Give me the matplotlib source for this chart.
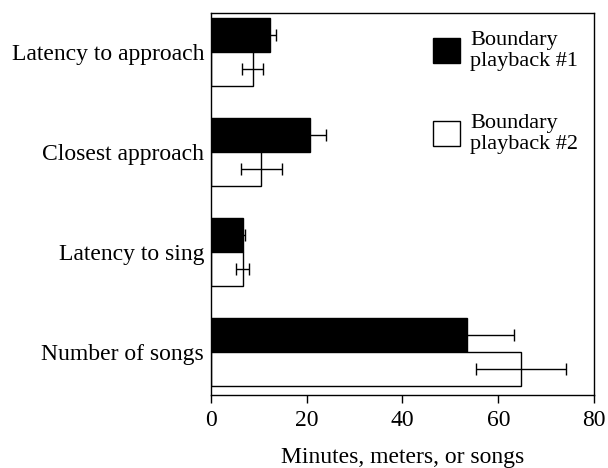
import numpy as np
import matplotlib.pyplot as plt
from matplotlib.patches import Patch

plt.rcParams['font.family'] = ['Liberation Serif', 'DejaVu Serif']

categories = ['Latency to approach', 'Closest approach', 'Latency to sing', 'Number of songs']
playback1 = [12.4, 20.7, 6.6, 53.5]
playback1_err = [1.2, 3.4, 0.5, 9.8]
playback2 = [8.7, 10.5, 6.6, 64.7]
playback2_err = [2.2, 4.3, 1.3, 9.4]
series_labels = ['Boundary\nplayback #1', 'Boundary\nplayback #2']

fig = plt.figure(figsize=(6.08, 4.68), dpi=100)
ax = fig.add_axes([0.347, 0.156, 0.630, 0.816])

y = np.arange(len(categories))
h = 0.34
ax.barh(y - h / 2, playback1, height=h, color='black', edgecolor='black', linewidth=1)
ax.barh(y + h / 2, playback2, height=h, color='white', edgecolor='black', linewidth=1)
ax.errorbar(playback1, y - h / 2, xerr=playback1_err, fmt='none', ecolor='black',
            elinewidth=1, capsize=4.5, capthick=1)
ax.errorbar(playback2, y + h / 2, xerr=playback2_err, fmt='none', ecolor='black',
            elinewidth=1, capsize=4.5, capthick=1)

ax.set_ylim(3.43, -0.39)
ax.set_xlim(0, 80)
ax.set_yticks(y)
ax.set_yticklabels(categories, fontsize=17)
ax.tick_params(axis='y', length=0, pad=5)
ax.set_xticks([0, 20, 40, 60, 80])
ax.tick_params(axis='x', direction='out', length=6, width=1, labelsize=17, pad=5)
ax.set_xlabel('Minutes, meters, or songs', fontsize=17, labelpad=11)
for s in ax.spines.values():
    s.set_linewidth(1)

handles = [Patch(facecolor='black', edgecolor='black'),
           Patch(facecolor='white', edgecolor='black')]
ax.legend(handles, series_labels, loc='upper right', frameon=False, fontsize=16,
          handlelength=1.25, handleheight=1.35, handletextpad=0.45,
          labelspacing=1.9, borderaxespad=0.3, bbox_to_anchor=(1.0, 0.995))

fig.savefig('out.png', dpi=100)
